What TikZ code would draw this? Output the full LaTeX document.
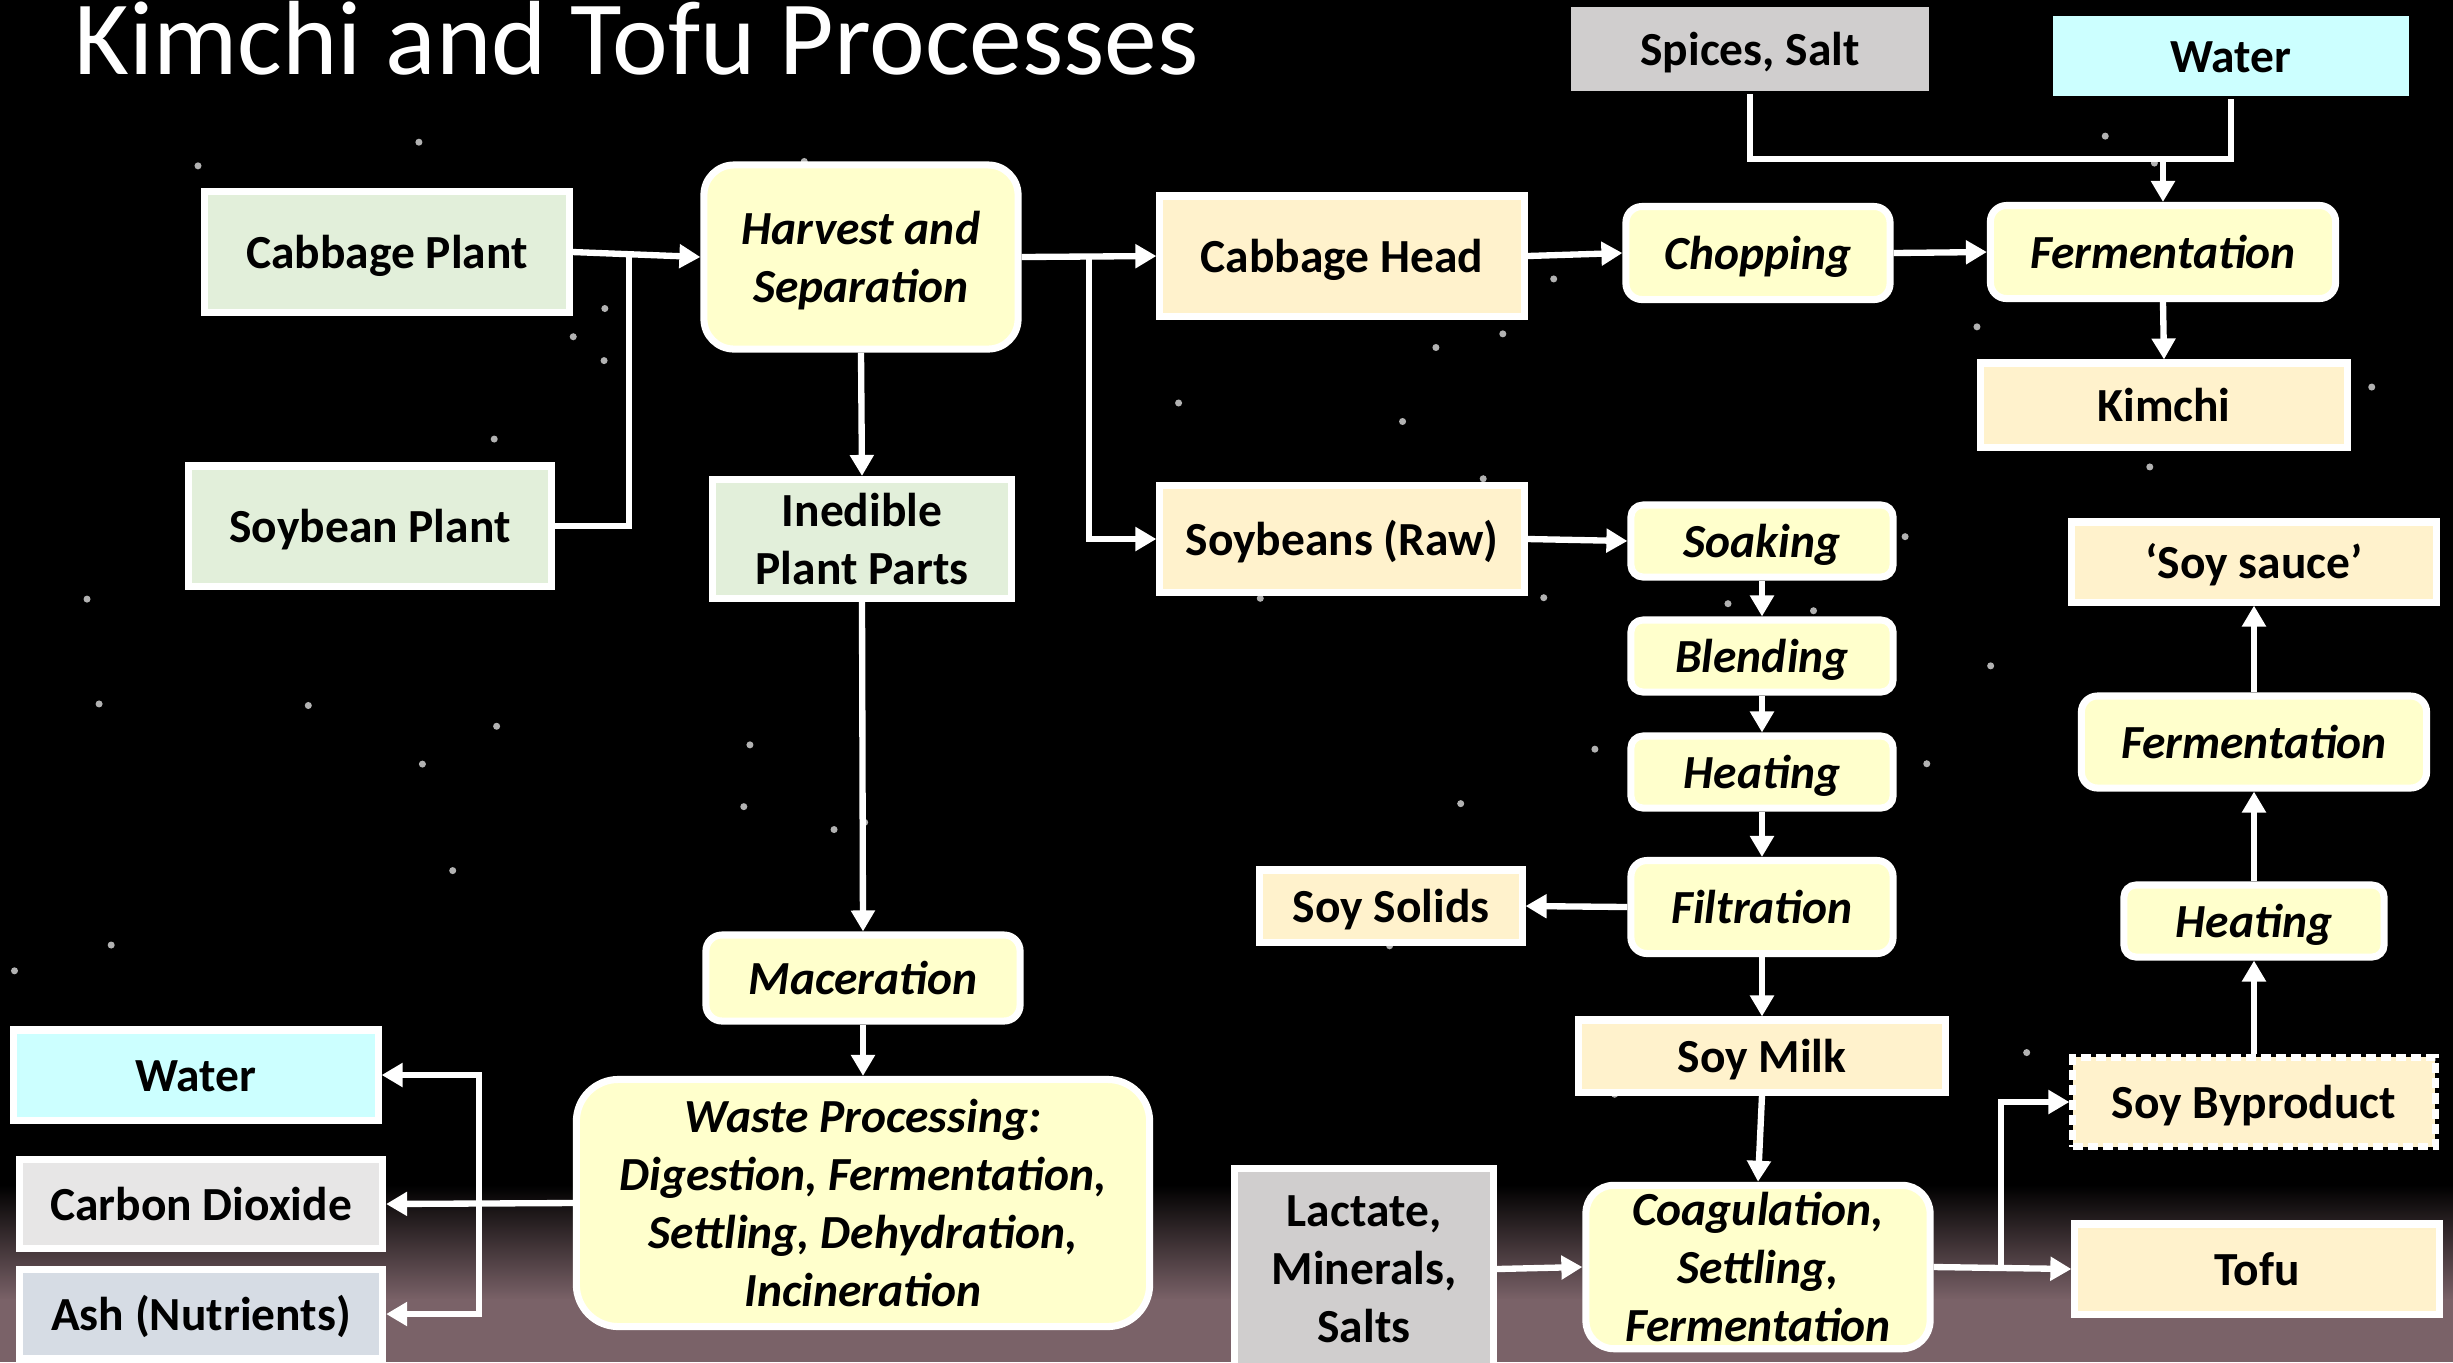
\documentclass[tikz,border=0pt]{standalone}
\usepackage{fontspec}
\setmainfont{Carlito}
\usetikzlibrary{arrows.meta}

\definecolor{leafgreen}{HTML}{E2EFDA}
\definecolor{stepyellow}{HTML}{FFFFCC}
\definecolor{foodtan}{HTML}{FFF2CC}
\definecolor{watercyan}{HTML}{CCFFFF}
\definecolor{saltgrey}{HTML}{D0CECE}
\definecolor{gasgrey}{HTML}{E7E6E6}
\definecolor{ashblue}{HTML}{D6DCE4}
\definecolor{soil}{RGB}{122,98,104}

\begin{document}
\begin{tikzpicture}[x=0.01cm, y=-0.01cm,
    box/.style={draw=white, line width=2pt, inner sep=2pt, align=center,
                font=\fontsize{13.5}{16.5}\selectfont\bfseries,
                execute at begin node={\rule{0pt}{0.952em}},
                execute at end node={\rule[-0.269em]{0pt}{0.269em}}},
    multi/.style={execute at begin node={}, execute at end node={},
                  text depth=0pt},
    wh/.style 2 args={minimum width=#1cm, minimum height=#2cm},
    proc/.style={box, fill=stepyellow, rounded corners=#1,
                 font=\fontsize{13.5}{16.5}\selectfont\bfseries\itshape},
    proc/.default=0.12cm,
    plant/.style={box, fill=leafgreen},
    food/.style={box, fill=foodtan},
    feed/.style={box, draw=none, fill=#1},
    link/.style={draw=white, line width=1.8pt},
    arr/.style={link, -{Triangle[length=0.21cm, width=0.23cm]}}]

% background: night sky and ground
\fill[black] (0,0) rectangle (2453,1362);
\shade[top color=black, bottom color=soil] (0,1185) rectangle (2453,1300);
\fill[soil] (0,1299) rectangle (2453,1362);
\pgfmathsetseed{11}
\foreach \i in {1,...,55} {
    \pgfmathsetmacro\sx{rnd*2453}
    \pgfmathsetmacro\sy{90+rnd*1060}
    \fill[gray!60] (\sx,\sy) circle[radius=1pt];
}
\useasboundingbox (0,0) rectangle (2453,1362);

\node[anchor=base west, text=white, font=\fontsize{30}{36}\selectfont] (title)
    at (62,74) {Kimchi and Tofu Processes};

% plants and harvest
\node[plant, wh={3.64}{1.21}] (cabp) at (387,252) {Cabbage Plant};
\node[plant, wh={3.63}{1.20}] (soyp) at (370,526) {Soybean Plant};
\node[proc=0.3cm, multi, wh={3.14}{1.84}] (harv) at (861,257) {Harvest and\\Separation};
\node[plant, multi, wh={2.99}{1.19}] (ined) at (862,539) {Inedible\\Plant Parts};

% kimchi line
\node[food, wh={3.64}{1.20}] (cabh) at (1342,256) {Cabbage Head};
\node[proc=0.16cm, wh={2.64}{0.93}] (chop) at (1758,253) {Chopping};
\node[proc=0.16cm, wh={3.45}{0.93}] (fermk) at (2163,252) {Fermentation};
\node[food, wh={3.66}{0.84}] (kimchi) at (2164,405) {Kimchi};
\node[feed=saltgrey, wh={3.58}{0.83}] (spice) at (1750,49) {Spices, Salt};
\node[feed=watercyan, wh={3.56}{0.79}] (wtop) at (2231,56) {Water};

% soy milk line
\node[food, wh={3.64}{1.07}] (soyr) at (1342,539) {Soybeans (Raw)};
\node[proc, wh={2.62}{0.58}] (soak) at (1762,541) {Soaking};
\node[proc, wh={2.62}{0.57}] (blend) at (1762,656) {Blending};
\node[proc, wh={2.62}{0.67}] (heat) at (1762,772) {Heating};
\node[proc=0.16cm, wh={2.62}{0.93}] (filt) at (1762,907) {Filtration};
\node[food, wh={2.62}{0.58}] (solids) at (1391,906) {Soy Solids};
\node[food, wh={3.66}{0.59}] (milk) at (1762,1056) {Soy Milk};
\node[proc=0.28cm, multi, wh={3.44}{1.56}] (coag) at (1758,1267) {Coagulation,\\Settling,\\Fermentation};
\node[box, fill=saltgrey, multi, wh={2.59}{2.00}] (lact) at (1364,1269) {Lactate,\\Minerals,\\Salts};
\node[food, wh={3.64}{0.90}] (tofu) at (2257,1269) {Tofu};

% soy sauce line
\node[food, dashed, dash pattern=on 0.1cm off 0.05cm, wh={3.62}{0.89}] (byp) at (2254,1102) {Soy Byproduct};
\node[proc, wh={2.60}{0.66}] (heatr) at (2254,921) {Heating};
\node[proc=0.16cm, wh={3.45}{0.92}] (fermr) at (2254,742) {Fermentation};
\node[food, wh={3.64}{0.80}] (sauce) at (2254,562) {‘Soy sauce’};

% waste line
\node[proc=0.16cm, wh={3.14}{0.86}] (mac) at (863,978) {Maceration};
\node[proc=0.42cm, multi, wh={5.73}{2.47}] (waste) at (863,1203) {Waste Processing:\\Digestion, Fermentation,\\Settling, Dehydration,\\Incineration};
\node[box, fill=watercyan, wh={3.64}{0.90}] (wbot) at (196,1075) {Water};
\node[box, fill=gasgrey, wh={3.63}{0.89}] (co2) at (201,1204) {Carbon Dioxide};
\node[box, fill=ashblue, wh={3.63}{0.89}] (ash) at (201,1314) {Ash (Nutrients)};

% junctions
\coordinate (j1) at (629,252);
\coordinate (j2) at (1089,256);
\coordinate (j3) at (479,1203);
\coordinate (j4) at (2163,159);
\coordinate (j5) at (2001,1267);

% connectors
\draw[arr] (cabp.east) -- (harv.west);
\draw[link] (soyp.east) -| (j1);
\draw[arr] (harv.south) -- (ined.north);
\draw[arr] (harv.east) -- (cabh.west);
\draw[arr] (j2) |- (soyr.west);
\draw[arr] (ined.south) -- (mac.north);
\draw[arr] (mac.south) -- (waste.north);
\draw[arr] (waste.west) -- (co2.east);
\draw[arr] (j3) |- (wbot.east);
\draw[arr] (j3) |- (ash.east);

\draw[arr] (cabh.east) -- (chop.west);
\draw[arr] (chop.east) -- (fermk.west);
\draw[arr] (fermk.south) -- (kimchi.north);
\draw[link] (spice.south) |- (wtop.south |- j4) -- (wtop.south);
\draw[arr] (j4) -- (fermk.north);

\draw[arr] (soyr.east) -- (soak.west);
\draw[arr] (soak.south) -- (blend.north);
\draw[arr] (blend.south) -- (heat.north);
\draw[arr] (heat.south) -- (filt.north);
\draw[arr] (filt.west) -- (solids.east);
\draw[arr] (filt.south) -- (milk.north);
\draw[arr] (milk.south) -- (coag.north);
\draw[arr] (lact.east) -- (coag.west);
\draw[arr] (coag.east) -- (tofu.west);
\draw[arr] (j5) |- (byp.west);

\draw[arr] (byp.north) -- (heatr.south);
\draw[arr] (heatr.north) -- (fermr.south);
\draw[arr] (fermr.north) -- (sauce.south);
\end{tikzpicture}
\end{document}
